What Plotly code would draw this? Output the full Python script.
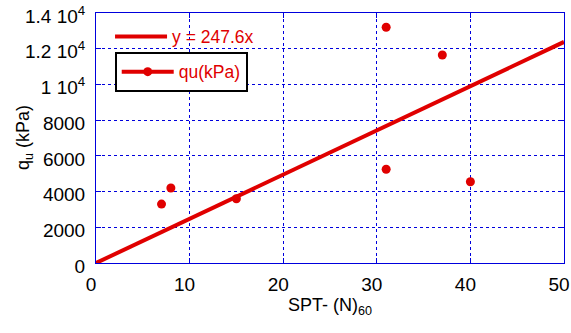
import plotly.graph_objects as go

# Data
spt_n60 = [7.0, 8.0, 15.0, 31.0, 31.0, 37.0, 40.0]
qu_kpa = [3300, 4200, 3600, 13200, 5250, 11650, 4550]
slope = 247.6
fit_x = [0, 50]
fit_y = [slope * v for v in fit_x]

y_tickvals = [0, 2000, 4000, 6000, 8000, 10000, 12000, 14000]
y_ticktext = ["0", "2000", "4000", "6000", "8000", "1 10<sup>4</sup>", "1.2 10<sup>4</sup>", "1.4 10<sup>4</sup>"]
x_tickvals = [0, 10, 20, 30, 40, 50]

red = "#e00000"
blue = "#0000dd"
font_family = "Liberation Sans, Arial, sans-serif"

fig = go.Figure()
fig.add_trace(go.Scatter(
    x=fit_x, y=fit_y, mode="lines", name="y = 247.6x",
    line=dict(color=red, width=4), legend="legend", showlegend=True,
    cliponaxis=False))
fig.add_trace(go.Scatter(
    x=spt_n60, y=qu_kpa, mode="markers", name="qu(kPa)",
    marker=dict(color=red, size=9), showlegend=False, cliponaxis=False))
# legend entry for the measured points (line + marker symbol as in the reference)
fig.add_trace(go.Scatter(
    x=[None], y=[None], mode="lines+markers", name="qu(kPa)",
    line=dict(color=red, width=4), marker=dict(color=red, size=9),
    legend="legend2", showlegend=True))

axis_common = dict(
    showline=True, linecolor=blue, linewidth=1, mirror="ticks",
    ticks="inside", tickcolor=blue, ticklen=5,
    showgrid=True, gridcolor=blue, griddash="dot", gridwidth=1,
    zeroline=False, ticklabeloverflow="allow", automargin=False,
    tickfont=dict(family=font_family, size=19, color="black"),
)

fig.update_layout(
    width=571, height=333,
    margin=dict(l=96, r=7, t=13, b=70),
    paper_bgcolor="white", plot_bgcolor="white",
    font=dict(family=font_family, color="black"),
    showlegend=True,
    xaxis=dict(range=[0, 50.0001], tickvals=x_tickvals, ticklabelstandoff=4,
               ticklabelshift=-5,
               title=dict(text="SPT- (N)<sub>60</sub>", font=dict(size=18), standoff=1),
               **axis_common),
    yaxis=dict(range=[0, 14000.01], tickvals=y_tickvals, ticktext=y_ticktext,
               ticklabelstandoff=6, ticklabelshift=3,
               **axis_common),
    legend=dict(x=0.03, y=0.978, xanchor="left", yanchor="top", itemwidth=52,
                bgcolor="rgba(255,255,255,0)", borderwidth=0,
                font=dict(size=17.5, color=red, family=font_family)),
    legend2=dict(x=0.04, y=0.845, xanchor="left", yanchor="top", itemwidth=52,
                 bgcolor="white", bordercolor="black", borderwidth=2,
                 font=dict(size=17.5, color=red, family=font_family)),
    annotations=[dict(
        text="q<sub>u</sub> (kPa)", textangle=-90, showarrow=False,
        xref="paper", yref="paper", x=0, y=0.5, xanchor="center", yanchor="middle",
        xshift=-72, font=dict(size=18, color="black", family=font_family))],
)

fig.write_html("out.html")
